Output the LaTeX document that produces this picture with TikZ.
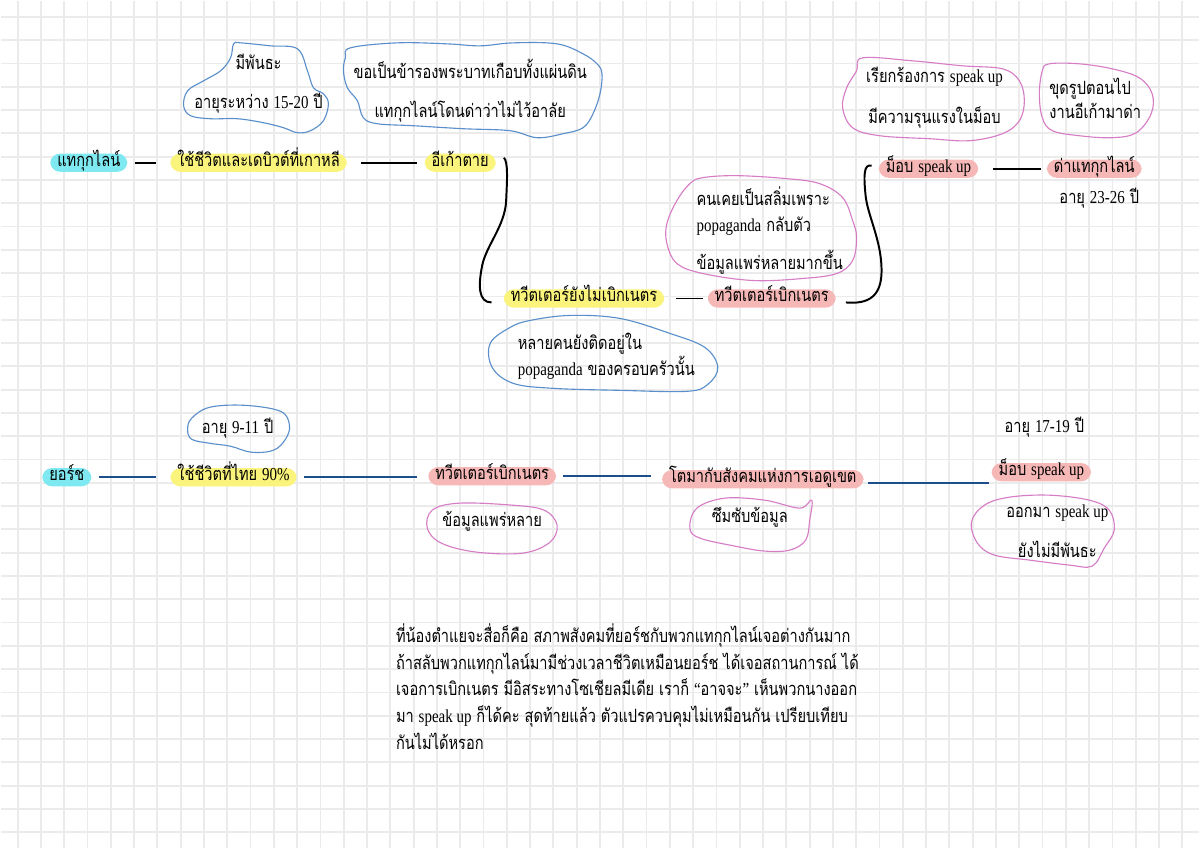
\documentclass[tikz,border=0pt]{standalone}
\usepackage{fontspec}
\setmainfont[Script=Thai, FakeStretch=0.8]{Loma}
\newfontfamily\latinfont[FakeStretch=0.82]{Liberation Serif}
\newcommand{\latn}[1]{{\latinfont #1}}
\usepackage{tikz}
\usetikzlibrary{calc}
\definecolor{figCyan}{HTML}{7FE9F1}
\definecolor{figYellow}{HTML}{FAF47C}
\definecolor{figPink}{HTML}{F6B8B6}
\definecolor{figNavy}{HTML}{1C4E8E}
\definecolor{figBlob}{HTML}{5A8FCB}
\definecolor{figBlobPink}{HTML}{D67DC6}
\definecolor{figGrid}{HTML}{EBEBEB}

\begin{document}
\begin{tikzpicture}[
  x=0.025cm, y=-0.025cm,
  every node/.style={font=\fontsize{13}{19}\selectfont, inner sep=1pt},
  hilite/.style={rounded corners=7pt, inner xsep=5pt, inner ysep=1pt,
    text height=8pt, text depth=3pt},
  hc/.style={hilite, fill=figCyan},
  hy/.style={hilite, fill=figYellow},
  hp/.style={hilite, fill=figPink},
  conn/.style={line width=1.3pt, black, shorten <=5pt, shorten >=10pt},
  navyconn/.style={conn, figNavy, line width=1.5pt},
  hookline/.style={line width=1.4pt, black},
  blobblue/.style={figBlob, line width=0.8pt},
  blobpink/.style={figBlobPink, line width=0.8pt},
]

% Grid paper
\fill[white] (0,0) rectangle (1200,848);
\foreach \i in {0,...,50}
  \draw[figGrid, line width=1.3pt] ({16.7+23.33*\i},0) -- ({16.7+23.33*\i},848);
\foreach \j in {0,...,35}
  \draw[figGrid, line width=1.3pt] (0,{16+23.33*\j}) -- (1200,{16+23.33*\j});
\useasboundingbox (0,0) rectangle (1200,848);

% Row 1 -- แทกุกไลน์
\node[hc] (tk) at (88,162) {แทกุกไลน์};
\node[hy] (tkkr) at (258,162) {ใช้ชีวิตและเดบิวต์ที่เกาหลี};
\node[hy] (igao) at (460,162) {อีเก้าตาย};
\node[hy] (twno) at (584,298) {ทวีตเตอร์ยังไม่เบิกเนตร};
\node[hp] (twyes) at (772,298) {ทวีตเตอร์เบิกเนตร};
\node[hp] (mob) at (929,168) {ม็อบ \latn{speak up}};
\node[hp] (dak) at (1095,168) {ด่าแทกุกไลน์};
\node (age1) at (1100,198) {อายุ \latn{23-26} ปี};

\draw[conn] (tk) -- (tkkr);
\draw[conn, shorten <=10pt, shorten >=5pt] (tkkr) -- (igao);
\draw[conn, shorten <=8pt, shorten >=3pt] (twno) -- (twyes);
\draw[conn, shorten <=10pt, shorten >=4pt] (mob) -- (dak);

% hand-drawn brackets
\draw[hookline] ([shift={(8,-5)}]igao.east) .. controls (508,162) and (507,178) .. (506,200)
  .. controls (505,225) and (486,245) .. (482,265)
  .. controls (478,285) and (478,302) .. ([shift={(-12,4)}]twno.west);
\draw[hookline] ([shift={(10,4)}]twyes.east) .. controls (870,304) and (882,295) .. (882,270)
  .. controls (882,240) and (868,215) .. (866,195)
  .. controls (864,175) and (864,163) .. ([shift={(-7,-3)}]mob.west);

% Notes, row 1
\node[align=center] (n1) at (258,83) {มีพันธะ\\[9pt]อายุระหว่าง \latn{15-20} ปี};
\draw[blobblue] plot[smooth cycle, tension=0.6] coordinates {(233,43) (240,42) (270,45) (297,48)
  (307,70) (313,87) (323,93) (328,103) (323,120) (310,130) (297,132) (283,127) (263,122)
  (237,118) (210,118) (190,115) (183,105) (187,90) (203,80) (220,70) (230,57)};

\node[align=center] (n2) at (470,90) {ขอเป็นข้ารองพระบาทเกือบทั้งแผ่นดิน\\[9pt]แทกุกไลน์โดนด่าว่าไม่ไว้อาลัย};
\draw[blobblue] plot[smooth cycle, tension=0.6] coordinates {(350,47) (397,42) (447,43) (480,45)
  (513,42) (557,43) (583,53) (597,63) (602,73) (600,93) (593,113) (583,127) (563,133)
  (537,137) (510,130) (463,128) (413,125) (377,123) (363,117) (357,100) (347,87) (343,70) (345,57)};

\node[align=center] (n3) at (935,97) {เรียกร้องการ \latn{speak up}\\[10pt]มีความรุนแรงในม็อบ};
\draw[blobpink] plot[smooth cycle, tension=0.6] coordinates {(863,57) (913,60) (963,65) (1003,68)
  (1020,80) (1025,100) (1020,120) (1003,133) (970,140) (930,138) (880,135) (853,127)
  (843,107) (847,87) (857,70)};

\node[align=left] (n4) at (1096,98) {ขุดรูปตอนไป\\[-2pt]งานอีเก้ามาด่า};
\draw[blobpink] plot[smooth cycle, tension=0.6] coordinates {(1043,70) (1050,63) (1080,63)
  (1113,68) (1140,77) (1153,93) (1152,113) (1137,132) (1113,137) (1080,135) (1053,130)
  (1043,117) (1040,93)};

\node[align=left, anchor=west] (n5) at (695,230) {คนเคยเป็นสลิ่มเพราะ\\\latn{popaganda} กลับตัว\\[8pt]ข้อมูลแพร่หลายมากขึ้น};
\draw[blobpink] plot[smooth cycle, tension=0.6] coordinates {(703,177) (737,175) (787,178)
  (820,183) (843,197) (853,220) (857,237) (853,260) (837,273) (803,278) (753,280)
  (703,273) (677,263) (667,243) (667,223) (677,200) (690,183)};

\node[align=left, anchor=west] (n6) at (516,356) {หลายคนยังติดอยู่ใน\\\latn{popaganda} ของครอบครัวนั้น};
\draw[blobblue] plot[smooth cycle, tension=0.6] coordinates {(530,320) (570,315) (620,318)
  (670,333) (705,347) (718,367) (708,384) (687,391) (620,390) (553,388) (513,383)
  (492,367) (490,343) (510,327)};

% Row 2 -- ยอร์ช
\node[hc] (yo) at (66,477) {ยอร์ช};
\node[hy] (yoth) at (233,477) {ใช้ชีวิตที่ไทย \latn{90\%}};
\node[hp] (yotw) at (492,476) {ทวีตเตอร์เบิกเนตร};
\node[hp] (yoedu) at (763,479) {โตมากับสังคมแห่งการเอดูเขต};
\node[hp] (yomob) at (1042,472) {ม็อบ \latn{speak up}};
\node (age2) at (1045,427) {อายุ \latn{17-19} ปี};

\draw[navyconn] (yo.east) -- (yo.east -| yoth.west);
\draw[navyconn, shorten >=8pt] (yoth.east) -- (yoth.east -| yotw.west);
\draw[navyconn, shorten >=8pt] (yotw.east) -- (yotw.east -| yoedu.west);
\draw[navyconn, shorten <=3pt, shorten >=2pt] ([yshift=-3pt]yoedu.east) -- ([yshift=-3pt]yoedu.east -| yomob.west);

% Notes, row 2
\node (n7) at (237,428) {อายุ \latn{9-11} ปี};
\draw[blobblue] plot[smooth cycle, tension=0.6] coordinates {(191,418) (209,407) (244,405)
  (280,411) (289,425) (285,439) (273,450) (251,452) (230,446) (209,443) (191,439) (187,429)};

\node (n8) at (492,521) {ข้อมูลแพร่หลาย};
\draw[blobpink] plot[smooth cycle, tension=0.6] coordinates {(432,510) (459,503) (512,505)
  (544,510) (557,525) (550,542) (523,553) (476,552) (441,543) (427,528)};

\node (n9) at (750,517) {ซึมซับข้อมูล};
\draw[blobpink] plot[smooth cycle, tension=0.6] coordinates {(812,500) (810,520) (806,540)
  (790,550) (765,551) (735,546) (700,538) (690,528) (697,508) (725,498) (765,500) (800,508)};

\node[align=center] (n10) at (1058,531) {ออกมา \latn{speak up}\\[10pt]ยังไม่มีพันธะ};
\draw[blobpink] plot[smooth cycle, tension=0.6] coordinates {(972,522) (985,505) (1010,497)
  (1050,495) (1090,500) (1110,510) (1115,530) (1105,548) (1093,566) (1070,565) (1030,560)
  (995,555) (978,543)};

% Summary paragraph
\node[align=left, anchor=north west] (sum) at (394,622)
  {ที่น้องตำแยจะสื่อก็คือ สภาพสังคมที่ยอร์ชกับพวกแทกุกไลน์เจอต่างกันมาก\\
   ถ้าสลับพวกแทกุกไลน์มามีช่วงเวลาชีวิตเหมือนยอร์ช ได้เจอสถานการณ์ ได้\\
   เจอการเบิกเนตร มีอิสระทางโซเชียลมีเดีย เราก็ \latn{“}อาจจะ\latn{”} เห็นพวกนางออก\\
   มา \latn{speak up} ก็ได้คะ สุดท้ายแล้ว ตัวแปรควบคุมไม่เหมือนกัน เปรียบเทียบ\\
   กันไม่ได้หรอก};

\end{tikzpicture}
\end{document}
